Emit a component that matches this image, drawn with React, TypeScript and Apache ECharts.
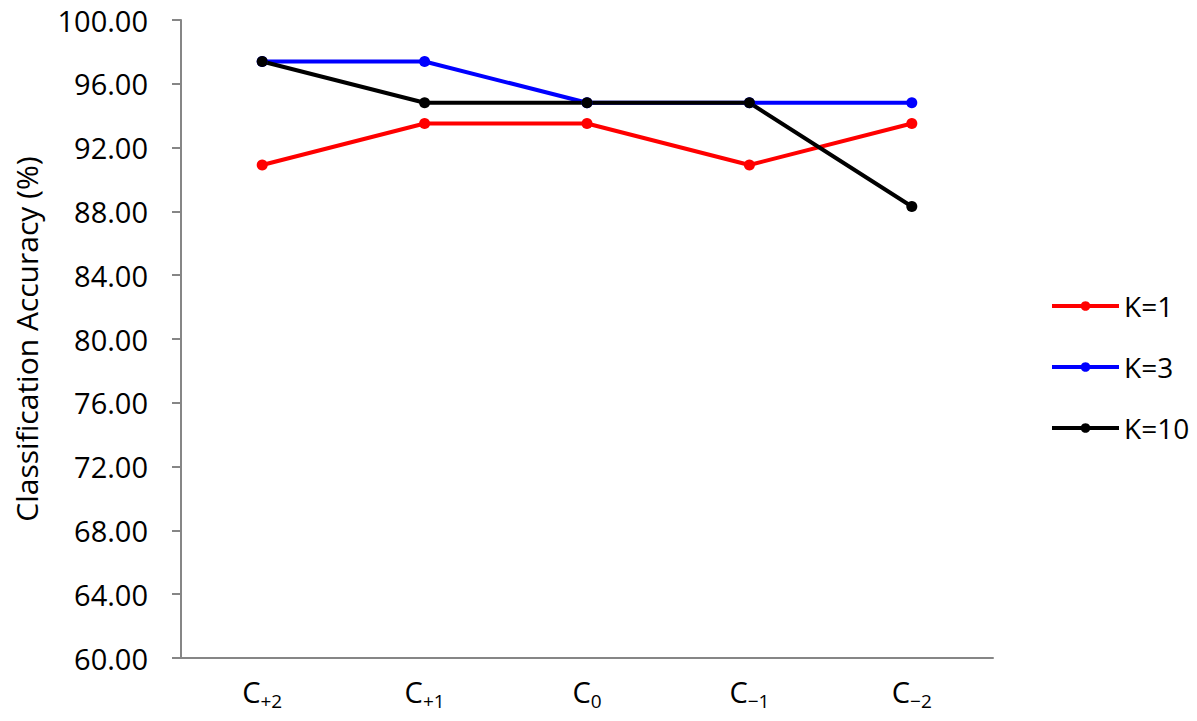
import React, { useEffect, useRef } from "react";
import * as echarts from "echarts";

const categories = ["+2", "+1", "0", "−1", "−2"];
const k1 = [90.91, 93.51, 93.51, 90.91, 93.51];
const k3 = [97.4, 97.4, 94.81, 94.81, 94.81];
const k10 = [97.4, 94.81, 94.81, 94.81, 88.31];
const seriesNames = ["K=1", "K=3", "K=10"];
const colors = ["#ff0000", "#0000ff", "#000000"];

const FONT = "'Open Sans', 'Noto Sans', sans-serif";

export default function App() {
  const ref = useRef<HTMLDivElement>(null);
  useEffect(() => {
    const chart = echarts.init(ref.current!, null, { renderer: "svg" });
    const data = [k1, k3, k10];
    chart.setOption({
      animation: false,
      backgroundColor: "#ffffff",
      grid: { left: 181, right: 204, top: 20, bottom: 63, containLabel: false },
      legend: {
        orient: "vertical",
        left: 1045,
        top: 287,
        itemWidth: 67,
        itemHeight: 12,
        itemGap: 33,
        lineStyle: { width: 4 },
        textStyle: { fontFamily: FONT, fontSize: 28, lineHeight: 28, color: "#000", padding: [0, 0, 0, 0] },
        data: seriesNames,
      },
      xAxis: {
        type: "category",
        data: categories,
        boundaryGap: true,
        axisLine: { lineStyle: { color: "#868686", width: 2 } },
        axisTick: { length: 9, lineStyle: { color: "#868686", width: 2 }, alignWithLabel: false },
        axisLabel: {
          margin: 14,
          formatter: (v: string) => `{c|C}{s|${v}}`,
          rich: {
            c: { fontFamily: FONT, fontSize: 29, color: "#000", verticalAlign: "bottom", lineHeight: 34 },
            s: { fontFamily: FONT, fontSize: 19, color: "#000", verticalAlign: "bottom", lineHeight: 25, padding: [0, 0, -4, 0] },
          },
        },
      },
      yAxis: {
        type: "value",
        min: 60,
        max: 100,
        interval: 4,
        name: "Classification Accuracy (%)",
        nameLocation: "middle",
        nameGap: 140,
        nameRotate: 90,
        nameTextStyle: { fontFamily: FONT, fontSize: 30, color: "#000" },
        splitLine: { show: false },
        axisLine: { show: true, lineStyle: { color: "#868686", width: 2 } },
        axisTick: { show: true, length: 9, lineStyle: { color: "#868686", width: 2 } },
        axisLabel: {
          margin: 33,
          fontFamily: FONT,
          fontSize: 29,
          color: "#000",
          formatter: (v: number) => v.toFixed(2),
        },
      },
      series: seriesNames.map((name, i) => ({
        name,
        type: "line",
        data: data[i],
        symbol: "circle",
        symbolSize: 11,
        color: colors[i],
        lineStyle: { width: 4, color: colors[i] },
        itemStyle: { color: colors[i] },
      })),
    });
    return () => chart.dispose();
  }, []);
  return <div ref={ref} style={{ width: 1197, height: 721, position: "absolute", left: 0, top: 0 }} />;
}
